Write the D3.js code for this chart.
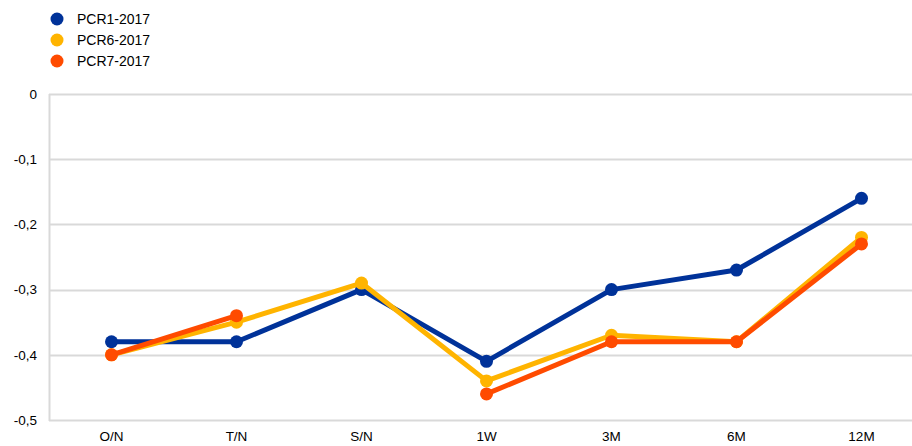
<!DOCTYPE html>
<html>
<head>
<meta charset="utf-8">
<script src="https://cdn.jsdelivr.net/npm/d3@7"></script>
<style>
  body { margin: 0; background: #fff; }
  svg { font-family: "Liberation Sans", Arial, sans-serif; }
</style>
</head>
<body>
<div id="chart"></div>
<script>
// tenors on the x axis
const tenors = ['O/N', 'T/N', 'S/N', '1W', '3M', '6M', '12M']
const seriesNames = ['PCR1-2017', 'PCR6-2017', 'PCR7-2017']
const pcr1 = [-0.38, -0.38, -0.30, -0.41, -0.30, -0.27, -0.16]
const pcr6 = [-0.40, -0.35, -0.29, -0.44, -0.37, -0.38, -0.22]
// no S/N value for PCR7
const pcr7 = [-0.40, -0.34, null, -0.46, -0.38, -0.38, -0.23]
const yTicks = [0, -0.1, -0.2, -0.3, -0.4, -0.5]
const colours = ['#003299', '#ffb400', '#ff4b00']

const width = 912
const height = 446
const margin = { top: 94, right: 0, bottom: 26, left: 49 }

const svg = d3.select('#chart')
    .append('svg')
    .attr('width', width)
    .attr('height', height)

const x = d3.scaleBand()
    .domain(tenors)
    .range([margin.left, margin.left + 125 * tenors.length])

const y = d3.scaleLinear()
    .domain([-0.5, 0])
    .range([height - margin.bottom, margin.top])

// gridlines
svg.append('g')
    .selectAll('line')
    .data(yTicks)
    .enter()
    .append('line')
    .attr('x1', margin.left)
    .attr('x2', width)
    .attr('y1', d => Math.round(y(d)) + 0.5)
    .attr('y2', d => Math.round(y(d)) + 0.5)
    .attr('stroke', '#d9d9d9')
    .attr('stroke-width', 2)

svg.append('line')
    .attr('x1', margin.left + 0.5)
    .attr('x2', margin.left + 0.5)
    .attr('y1', y(0))
    .attr('y2', y(-0.5) + 1)
    .attr('stroke', '#d9d9d9')
    .attr('stroke-width', 2)

// y tick labels, comma decimals
const fmt = d => d === 0 ? '0' : d3.format('.1f')(d).replace('.', ',').replace('−', '-')
svg.append('g')
    .selectAll('text')
    .data(yTicks)
    .enter()
    .append('text')
    .attr('x', 37)
    .attr('y', d => y(d))
    .attr('dy', '0.35em')
    .attr('text-anchor', 'end')
    .attr('font-size', 13.5)
    .attr('fill', '#000')
    .text(fmt)

// x tick labels
svg.append('g')
    .selectAll('text')
    .data(tenors)
    .enter()
    .append('text')
    .attr('x', d => x(d) + x.bandwidth() / 2)
    .attr('y', 441)
    .attr('text-anchor', 'middle')
    .attr('font-size', 13.5)
    .attr('fill', '#000')
    .text(d => d)

const allSeries = [pcr1, pcr6, pcr7]
const line = d3.line()
    .defined(d => d.v !== null)
    .x(d => x(d.t) + x.bandwidth() / 2)
    .y(d => y(d.v))

allSeries.forEach((vals, i) => {
    const pts = vals.map((v, j) => ({ t: tenors[j], v: v }))
    const g = svg.append('g')
    g.append('path')
        .datum(pts)
        .attr('fill', 'none')
        .attr('stroke', colours[i])
        .attr('stroke-width', 5)
        .attr('stroke-linejoin', 'round')
        .attr('d', line)
    g.selectAll('circle')
        .data(pts.filter(d => d.v !== null))
        .enter()
        .append('circle')
        .attr('cx', d => x(d.t) + x.bandwidth() / 2)
        .attr('cy', d => y(d.v))
        .attr('r', 6.5)
        .attr('fill', colours[i])
})

// legend
const legend = svg.append('g')
seriesNames.forEach((name, i) => {
    legend.append('circle')
        .attr('cx', 57)
        .attr('cy', 19 + i * 21)
        .attr('r', 6.5)
        .attr('fill', colours[i])
    legend.append('text')
        .attr('x', 77)
        .attr('y', 19 + i * 21)
        .attr('dy', '0.35em')
        .attr('font-size', 14)
        .attr('fill', '#000')
        .text(name)
})
</script>
</body>
</html>
